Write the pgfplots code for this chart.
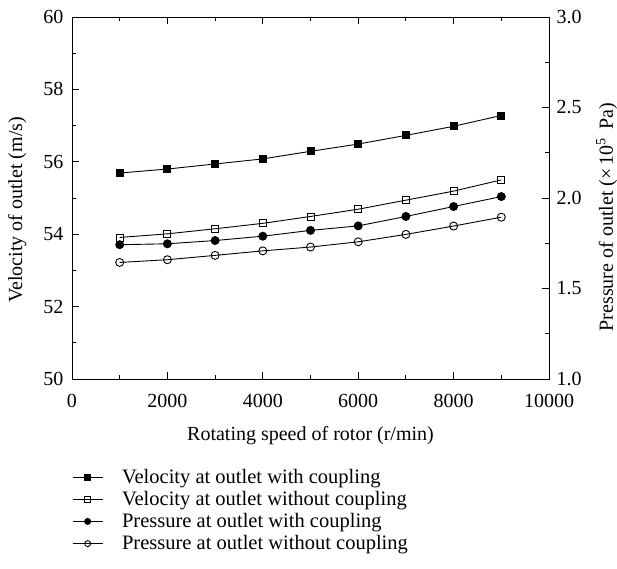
\documentclass[border=0pt]{standalone}
\usepackage{fontspec}
\setmainfont{Liberation Serif}
\usepackage{pgfplots}
\pgfplotsset{compat=1.18}
\begin{document}
\begin{tikzpicture}
\path[use as bounding box] (-72bp,-190bp) rectangle (545bp,379bp);
\pgfplotsset{
  myaxis/.style={
    scale only axis, width=477bp, height=362bp,
    at={(0,0)}, anchor=south west,
    font=\fontsize{20bp}{24bp}\selectfont,
    /pgf/number format/assume math mode=true,
    xmin=0, xmax=10000,
    tick align=inside,
    major tick length=7bp, minor tick length=4bp,
    every tick/.style={line width=0.9bp, black},
    axis line style={line width=0.9bp},
    label style={font=\fontsize{22bp}{26bp}\selectfont},
  },
  every axis plot/.append style={line width=0.9bp, black},
}
\begin{axis}[myaxis,
  ymin=50, ymax=60,
  xtick={0,2000,...,10000}, minor xtick={1000,3000,...,9000},
  ytick={50,52,...,60}, minor ytick={51,53,...,59},
  xtick pos=both, ytick pos=left,
  scaled x ticks=false,
  xticklabel style={/pgf/number format/set thousands separator={}, yshift=-12bp},
  yticklabel style={xshift=-5bp},
  xlabel={Rotating speed of rotor (r/min)},
  ylabel={Velocity of outlet (m/s)},
  every axis x label/.style={at={(axis description cs:0.5,0)}, anchor=base, yshift=-61bp},
  every axis y label/.style={at={(axis description cs:-0.1048,0.467)}, anchor=base, rotate=90},
]
\addplot[mark=square*, mark size=3.5bp, mark options={fill=black}] coordinates {
(1000,55.69) (2000,55.80) (3000,55.94) (4000,56.08) (5000,56.29) (6000,56.49) (7000,56.73) (8000,56.98) (9000,57.28)};
\addplot[mark=square, mark size=3.5bp, mark options={fill=white}] coordinates {
(1000,53.91) (2000,54.01) (3000,54.15) (4000,54.30) (5000,54.49) (6000,54.69) (7000,54.94) (8000,55.19) (9000,55.50)};
\end{axis}
\begin{axis}[myaxis,
  ymin=1.0, ymax=3.0,
  axis x line=none,
  axis y line*=right,
  ytick={1.0,1.5,...,3.0}, minor ytick={1.25,1.75,2.25,2.75},
  yticklabel style={/pgf/number format/.cd, fixed, fixed zerofill, precision=1, /tikz/.cd, xshift=4bp},
  ylabel={Pressure of outlet (\texttimes\,10\textsuperscript{5}\, Pa)},
  every axis y label/.style={at={(axis description cs:1.134,0.4475)}, anchor=base, rotate=90},
  legend style={at={(axis description cs:0,-0.243)}, anchor=north west, draw=none, fill=none, inner sep=0pt,
    cells={anchor=west}, font=\fontsize{20.5bp}{24bp}\selectfont, row sep=2.5bp,
    /tikz/every odd column/.append style={column sep=17bp}},
  legend image code/.code={\draw[#1, mark repeat=2, mark phase=2, mark size=3bp] plot coordinates {(0bp,0bp) (15bp,0bp) (30bp,0bp)};},
]
\addlegendimage{mark=square*, mark options={fill=black}}
\addlegendentry{Velocity at outlet with coupling}
\addlegendimage{mark=square, mark options={fill=white}}
\addlegendentry{Velocity at outlet without coupling}
\addplot[mark=*, mark size=4bp, mark options={fill=black}] coordinates {
(1000,1.742) (2000,1.747) (3000,1.765) (4000,1.789) (5000,1.821) (6000,1.846) (7000,1.898) (8000,1.953) (9000,2.008)};
\addlegendentry{Pressure at outlet with coupling}
\addplot[mark=o, mark size=4bp, mark options={fill=white}] coordinates {
(1000,1.644) (2000,1.659) (3000,1.683) (4000,1.708) (5000,1.729) (6000,1.758) (7000,1.799) (8000,1.845) (9000,1.894)};
\addlegendentry{Pressure at outlet without coupling}
\end{axis}
\end{tikzpicture}
\end{document}
